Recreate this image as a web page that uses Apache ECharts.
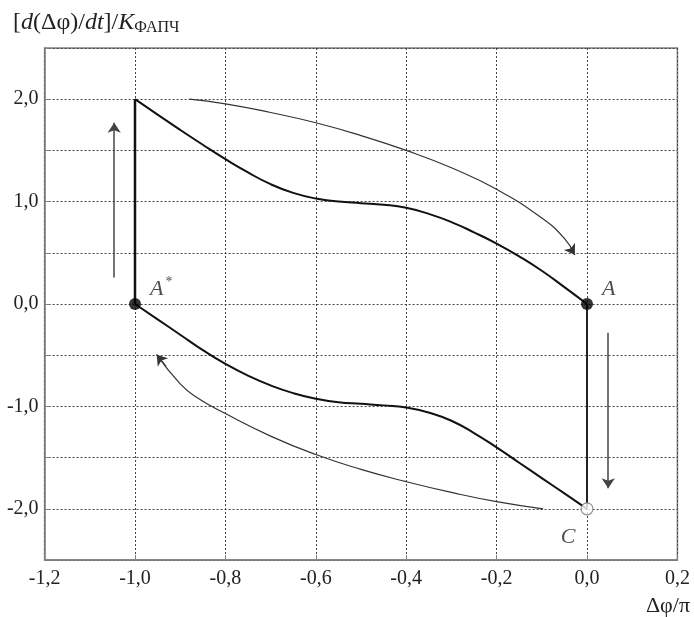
<!DOCTYPE html>
<html>
<head>
<meta charset="utf-8">
<script src="https://cdn.jsdelivr.net/npm/echarts@6/dist/echarts.min.js"></script>
<style>
html,body{margin:0;padding:0;background:#fff;}
#chart{width:694px;height:617px;}
</style>
</head>
<body>
<div id="chart"></div>
<script>
// ---- data ----
var upperX = [-1, -0.95, -0.9, -0.85, -0.8, -0.75, -0.7, -0.65, -0.6, -0.55, -0.5, -0.45, -0.4, -0.35, -0.3, -0.25, -0.2, -0.15, -0.1, -0.05, 0];
var upperY = [2.0, 1.85, 1.70, 1.555, 1.415, 1.285, 1.17, 1.085, 1.03, 1.0, 0.985, 0.97, 0.94, 0.88, 0.80, 0.70, 0.59, 0.465, 0.325, 0.165, 0.0];
var lowerX = [-1, -0.95, -0.9, -0.85, -0.8, -0.75, -0.7, -0.65, -0.6, -0.55, -0.5, -0.45, -0.4, -0.35, -0.3, -0.25, -0.2, -0.15, -0.1, -0.05, 0];
var lowerY = [0.0, -0.15, -0.30, -0.45, -0.585, -0.70, -0.795, -0.87, -0.925, -0.96, -0.975, -0.99, -1.01, -1.06, -1.14, -1.26, -1.40, -1.55, -1.70, -1.85, -2.0];
var jumpLeftX = [-1, -1];
var jumpLeftY = [0, 2];
var jumpRightX = [0, 0];
var jumpRightY = [0, -2];
var filledPtsX = [-1, 0];
var filledPtsY = [0, 0];
var filledPtsLabel = ['A*', 'A'];
var openPtX = [0];
var openPtY = [-2];
var openPtLabel = ['C'];
var arrowTopX = [-0.88, -0.8, -0.7, -0.6, -0.5, -0.4, -0.3, -0.2, -0.1, -0.05, -0.027];
var arrowTopY = [2.0, 1.955, 1.87, 1.77, 1.645, 1.5, 1.33, 1.12, 0.84, 0.64, 0.48];
var arrowBotX = [-0.097, -0.2, -0.3, -0.4, -0.5, -0.6, -0.7, -0.8, -0.864, -0.9, -0.952];
var arrowBotY = [-2.0, -1.93, -1.84, -1.735, -1.615, -1.47, -1.29, -1.07, -0.91, -0.78, -0.495];
var arrowUpX = [-1.046, -1.046];
var arrowUpY = [0.26, 1.77];
var arrowDownX = [0.047, 0.047];
var arrowDownY = [-0.28, -1.80];
var xMin = -1.2, xMax = 0.2, xStep = 0.2;
var yMin = -2.5, yMax = 2.5, yStep = 0.5;
var yLabelValues = [-2, -1, 0, 1, 2];

function pairs(xs, ys) { return xs.map(function (x, i) { return [x, ys[i]]; }); }
function fmt(v) {
  if (Math.abs(v) < 1e-9) v = 0;
  return v.toFixed(1).replace('.', ',');
}
function tail(xs, ys) {
  var n = xs.length;
  return [[xs[n - 2] + (xs[n - 1] - xs[n - 2]) * 0.6, ys[n - 2] + (ys[n - 1] - ys[n - 2]) * 0.6], [xs[n - 1], ys[n - 1]]];
}

var serif = '"Liberation Serif", "DejaVu Serif", serif';
var chart = echarts.init(document.getElementById('chart'));
var option = {
  animation: false,
  backgroundColor: '#fff',
  grid: { left: 44.6, right: 16.6, top: 48, bottom: 57, show: true, borderColor: '#808080', borderWidth: 1.5, backgroundColor: 'transparent' },
  xAxis: {
    type: 'value', min: xMin, max: xMax, interval: xStep,
    axisLine: { show: true, onZero: false, lineStyle: { color: '#808080', width: 1.5 } },
    axisTick: { show: true, inside: true, length: 5, lineStyle: { color: '#808080' } },
    axisLabel: { color: '#222', fontFamily: serif, fontSize: 20, margin: 9, formatter: fmt },
    splitLine: { show: true, lineStyle: { color: '#444', width: 1, type: [2, 2] } }
  },
  yAxis: {
    type: 'value', min: yMin, max: yMax, interval: yStep,
    axisLine: { show: true, onZero: false, lineStyle: { color: '#808080', width: 1.5 } },
    axisTick: { show: true, inside: true, length: 5, lineStyle: { color: '#808080' } },
    axisLabel: {
      color: '#222', fontFamily: serif, fontSize: 20, margin: 6,
      formatter: function (v) {
        for (var i = 0; i < yLabelValues.length; i++) if (Math.abs(v - yLabelValues[i]) < 1e-9) return fmt(v);
        return '';
      }
    },
    splitLine: { show: true, lineStyle: { color: '#444', width: 1, type: [2, 2] } }
  },
  graphic: [
    {
      type: 'text', left: 13, top: 11,
      style: {
        text: '{n|[}{i|d}{n|(Δφ)/}{i|dt}{n|]/}{i|K}{s|ФАПЧ}',
        rich: {
          n: { fontFamily: serif, fontSize: 24, fill: '#222' },
          i: { fontFamily: serif, fontSize: 24, fontStyle: 'italic', fill: '#222' },
          s: { fontFamily: serif, fontSize: 16, fill: '#222', padding: [9, 0, 0, 0] }
        }
      }
    },
    {
      type: 'text', right: 4, top: 595,
      style: { text: 'Δφ/π', fontFamily: serif, fontSize: 22, fill: '#222' }
    }
  ],
  series: [
    { type: 'line', data: pairs(upperX, upperY), smooth: 0.5, symbol: 'none', lineStyle: { color: '#111', width: 2 }, z: 5 },
    { type: 'line', data: pairs(lowerX, lowerY), smooth: 0.5, symbol: 'none', lineStyle: { color: '#111', width: 2 }, z: 5 },
    { type: 'line', data: pairs(jumpLeftX, jumpLeftY), symbol: 'none', lineStyle: { color: '#111', width: 2.5 }, z: 5 },
    { type: 'line', data: pairs(jumpRightX, jumpRightY), symbol: 'none', lineStyle: { color: '#222', width: 2 }, z: 5 },
    { type: 'line', data: pairs(arrowTopX, arrowTopY), smooth: 0.5, symbol: 'none', lineStyle: { color: '#333', width: 1.2 }, z: 4 },
    { type: 'line', data: pairs(arrowBotX, arrowBotY), smooth: 0.5, symbol: 'none', lineStyle: { color: '#333', width: 1.2 }, z: 4 },
    {
      type: 'lines', coordinateSystem: 'cartesian2d', z: 4,
      symbol: ['none', 'arrow'], symbolSize: [0, 10],
      lineStyle: { color: '#333', width: 1.2, opacity: 1 },
      data: [
        { coords: tail(arrowTopX, arrowTopY) },
        { coords: tail(arrowBotX, arrowBotY) },
        { coords: pairs(arrowUpX, arrowUpY), lineStyle: { width: 1.5, color: '#444' } },
        { coords: pairs(arrowDownX, arrowDownY), lineStyle: { width: 1.5, color: '#444' } }
      ]
    },
    {
      type: 'scatter', z: 6, symbol: 'circle', symbolSize: 12,
      itemStyle: { color: '#000' },
      data: pairs(filledPtsX, filledPtsY).map(function (p, i) { return { value: p, name: filledPtsLabel[i] }; }),
      label: {
        show: true, position: 'right', offset: [4, -15],
        formatter: function (p) {
          return p.name === 'A*' ? '{i|A}{sup|*}' : '{i|A}';
        },
        rich: {
          i: { fontFamily: serif, fontSize: 22, fontStyle: 'italic', color: '#222' },
          sup: { fontFamily: serif, fontSize: 14, color: '#222', padding: [0, 0, 14, 2] }
        }
      }
    },
    {
      type: 'scatter', z: 6, symbol: 'circle', symbolSize: 12,
      itemStyle: { color: '#fff', borderColor: '#777', borderWidth: 1.2 },
      data: pairs(openPtX, openPtY).map(function (p, i) { return { value: p, name: openPtLabel[i] }; }),
      label: {
        show: true, position: 'bottom', offset: [-19, 6],
        formatter: '{b}',
        fontFamily: serif, fontSize: 22, fontStyle: 'italic', color: '#222'
      }
    }
  ]
};
chart.setOption(option);
</script>
</body>
</html>
